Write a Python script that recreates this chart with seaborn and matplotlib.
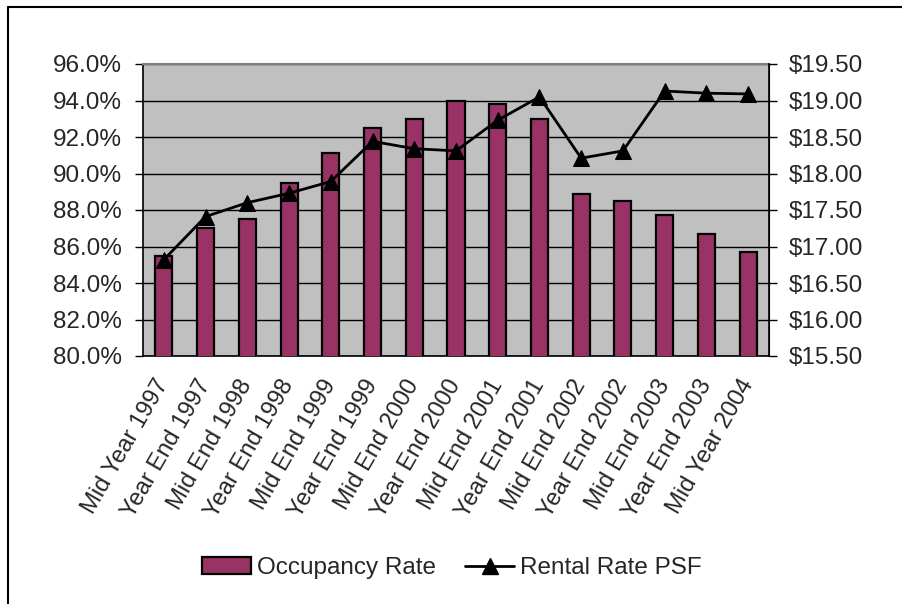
import matplotlib
matplotlib.use('Agg')
import matplotlib.pyplot as plt
import seaborn as sns
import numpy as np
import pandas as pd
from matplotlib.lines import Line2D
from matplotlib.patches import Patch
from matplotlib.ticker import FuncFormatter

# data
periods = ['Mid Year 1997', 'Year End 1997', 'Mid End 1998', 'Year End 1998',
           'Mid End 1999', 'Year End 1999', 'Mid End 2000', 'Year End 2000',
           'Mid End 2001', 'Year End 2001', 'Mid End 2002', 'Year End 2002',
           'Mid End 2003', 'Year End 2003', 'Mid Year 2004']
occupancy = [85.5, 87.0, 87.5, 89.5, 91.1, 92.5, 93.0, 94.0,
             93.8, 93.0, 88.9, 88.5, 87.7, 86.7, 85.7]
rental = [16.82, 17.41, 17.60, 17.73, 17.89, 18.44, 18.34, 18.31,
          18.73, 19.05, 18.21, 18.31, 19.13, 19.10, 19.09]

df = pd.DataFrame({'period': periods, 'occupancy': occupancy, 'rental': rental})

sns.set_style('white')
plt.rcParams['font.family'] = ['Liberation Sans', 'DejaVu Sans']
fs = 17.5
bar_color = '#993366'

fig = plt.figure(figsize=(9.03, 6.04), dpi=100)
ax = fig.add_axes([143/903, 1-356/604, (769-143)/903, (356-64)/604])
ax.set_facecolor('#C0C0C0')

sns.barplot(data=df, x='period', y='occupancy', color=bar_color, width=0.41,
            edgecolor='black', linewidth=1.6, saturation=1, ax=ax, zorder=3)
ax.set_ylim(80, 96)
ax.set_xlim(-0.5, len(periods) - 0.5)
ax.set_yticks(np.arange(80, 96.1, 2))
ax.yaxis.set_major_formatter(FuncFormatter(lambda v, p: f'{v:.1f}%'))
ax.grid(axis='y', color='black', linewidth=1, zorder=1)
ax.set_axisbelow(True)
ax.set_xlabel('')
ax.set_ylabel('')
ax.set_xticks(np.arange(-0.5, len(periods)), minor=True)
ax.set_xticks(range(len(periods)))
ax.set_xticklabels(periods, rotation=60, ha='right', va='center',
                   rotation_mode='anchor', fontsize=17)
ax.tick_params(axis='x', which='major', length=0, pad=18)
ax.tick_params(axis='x', which='minor', length=6, width=1, color='black', direction='out')
ax.tick_params(axis='y', length=6, width=1, color='black', direction='out',
               labelsize=fs, pad=9, left=True)
for s in ['left', 'bottom']:
    ax.spines[s].set_color('black')
    ax.spines[s].set_linewidth(1.2)
ax.spines['top'].set_color('#808080')
ax.spines['top'].set_linewidth(1.5)
ax.spines['right'].set_color('black')

ax2 = ax.twinx()
sns.lineplot(data=df, x='period', y='rental', sort=False, color='black',
             linewidth=2, marker='^', markersize=11, markeredgecolor='black',
             ax=ax2, zorder=4)
ax2.set_ylim(15.5, 19.5)
ax2.set_yticks(np.arange(15.5, 19.51, 0.5))
ax2.yaxis.set_major_formatter(FuncFormatter(lambda v, p: f'${v:.2f}'))
ax2.set_ylabel('')
ax2.set_xlabel('')
ax2.tick_params(axis='y', length=6, width=1, color='black', direction='out',
                labelsize=fs, pad=8, right=True)
ax2.spines['right'].set_color('black')
ax2.spines['right'].set_linewidth(1.2)
ax2.spines['top'].set_visible(False)
ax2.spines['left'].set_visible(False)
ax2.spines['bottom'].set_visible(False)

handles = [Patch(facecolor=bar_color, edgecolor='black', linewidth=1.6),
           Line2D([0], [0], color='black', linewidth=2, marker='^', markersize=11)]
fig.legend(handles, ['Occupancy Rate', 'Rental Rate PSF'], loc='center',
           bbox_to_anchor=(452/903, 1-568/604), ncol=2, frameon=False,
           fontsize=fs, handlelength=2.0, handletextpad=0.25, columnspacing=1.2)

# outer chart border (only top/left visible in the crop)
fig.add_artist(Line2D([8/903, 1], [1-7/604, 1-7/604], color='black', linewidth=1.5))
fig.add_artist(Line2D([8/903, 8/903], [0, 1-7/604], color='black', linewidth=1.5))

fig.savefig('out.png', dpi=100)
